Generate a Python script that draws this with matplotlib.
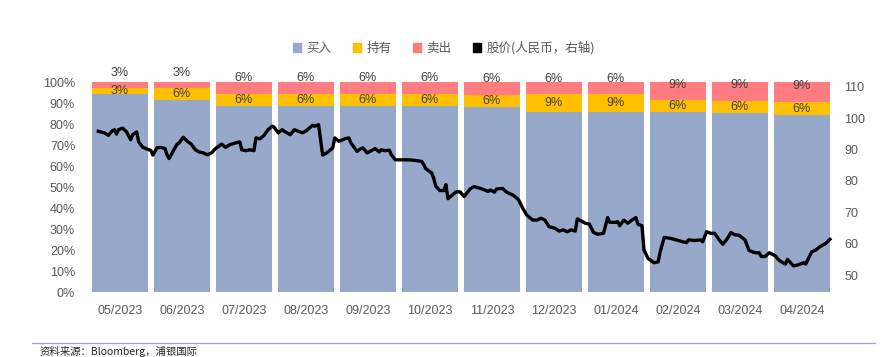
import matplotlib.pyplot as plt
from matplotlib.patches import Patch
from matplotlib.lines import Line2D
from matplotlib.ticker import FuncFormatter
import numpy as np

plt.rcParams['font.family'] = ['Liberation Sans', 'Noto Sans CJK SC', 'DejaVu Sans']

# 分析师评级占比 (%)
months = ["05/2023", "06/2023", "07/2023", "08/2023", "09/2023", "10/2023",
          "11/2023", "12/2023", "01/2024", "02/2024", "03/2024", "04/2024"]
buy = [94.3, 91.4, 88.9, 88.9, 88.9, 88.9, 88.2, 85.7, 85.7, 85.7, 85.3, 84.4]
hold = [2.9, 5.7, 5.6, 5.6, 5.6, 5.6, 5.9, 8.6, 8.6, 5.7, 5.9, 6.2]
sell = [2.9, 2.9, 5.6, 5.6, 5.6, 5.6, 5.9, 5.7, 5.7, 8.6, 8.8, 9.4]

# 股价 (人民币), day = 自 2023-05-04 起的天数
day = [0, 3, 5, 7, 8, 9, 10, 12, 14, 16, 17, 19, 20, 22, 25, 26, 27, 29, 31, 33,
       34, 35, 37, 39, 40, 42, 44, 46, 48, 50, 52, 54, 56, 58, 61, 63, 65, 68, 70, 71,
       73, 75, 77, 78, 80, 82, 84, 86, 87, 89, 91, 92, 95, 97, 99, 101, 103, 106, 107, 109,
       111, 113, 116, 117, 119, 122, 124, 125, 128, 130, 131, 133, 135, 137, 139, 140, 142, 144, 145, 147,
       150, 154, 158, 160, 161, 162, 165, 166, 167, 169, 171, 172, 173, 175, 177, 179, 181, 184, 186, 188,
       190, 193, 194, 196, 197, 200, 202, 205, 207, 208, 210, 212, 215, 217, 219, 221, 223, 226, 228, 230,
       232, 234, 236, 237, 239, 241, 243, 245, 247, 250, 252, 253, 256, 257, 258, 260, 262, 264, 266, 267,
       269, 270, 272, 275, 277, 278, 280, 283, 287, 291, 292, 295, 298, 299, 301, 303, 305, 307, 309, 311,
       313, 315, 317, 320, 322, 325, 327, 328, 330, 332, 335, 337, 340, 341, 344, 346, 349, 350, 353, 355,
       357, 360, 362]
price = [95.8, 95.3, 94.5, 96.0, 96.3, 94.9, 96.3, 96.8, 95.6, 93.1, 94.7, 95.6, 92.4, 90.7, 89.9, 89.7, 88.2, 90.5, 90.7, 90.3,
         88.3, 87.1, 89.4, 91.7, 92.1, 93.9, 92.6, 91.7, 89.9, 89.2, 88.9, 88.3, 88.9, 90.3, 91.7, 90.7, 91.5, 92.1, 92.4, 89.9,
         89.6, 89.9, 89.6, 93.7, 93.4, 94.5, 96.3, 97.4, 97.1, 95.3, 96.3, 95.8, 94.7, 96.3, 95.8, 95.3, 96.0, 97.7, 97.4, 97.9,
         88.2, 88.9, 90.5, 93.7, 92.6, 93.4, 93.7, 92.1, 89.4, 90.3, 90.5, 88.9, 89.6, 90.3, 89.2, 89.9, 89.6, 89.8, 88.3, 86.7,
         86.7, 86.7, 86.4, 86.2, 85.2, 83.9, 82.5, 80.7, 78.3, 76.9, 76.9, 78.8, 74.3, 75.4, 76.5, 76.5, 75.0, 77.4, 78.2, 77.8,
         77.4, 76.6, 77.1, 76.4, 77.4, 77.6, 76.4, 75.5, 74.6, 73.9, 71.3, 69.1, 67.5, 67.5, 68.1, 67.5, 65.4, 64.9, 64.0, 64.4,
         63.8, 64.4, 64.0, 67.9, 67.2, 66.5, 66.2, 63.6, 63.0, 63.3, 68.3, 66.8, 66.8, 67.0, 65.7, 67.5, 66.5, 67.5, 68.3, 66.2,
         65.7, 58.0, 55.3, 53.9, 54.2, 57.4, 62.0, 61.7, 61.0, 60.3, 61.2, 61.0, 61.2, 60.6, 63.8, 63.3, 63.3, 61.4, 59.8, 61.4,
         63.5, 62.8, 62.7, 61.2, 57.8, 57.1, 57.1, 55.9, 55.9, 57.1, 56.1, 54.6, 53.5, 55.0, 52.9, 53.2, 53.9, 53.5, 57.4, 58.0,
         59.0, 60.1, 61.4]

c_buy = "#97a9ca"
c_hold = "#ffc000"
c_sell = "#ff7c80"
c_tick = "#595959"
c_lab = "#404040"

fig = plt.figure(figsize=(8.82, 3.57), dpi=100)
ax = fig.add_axes([0.1009, 0.1812, 0.8435, 0.5883])

x = np.arange(len(months))
b = np.array(buy) / 100
h = np.array(hold) / 100
s = np.array(sell) / 100
ax.bar(x, b, width=0.9, color=c_buy, zorder=1)
ax.bar(x, h, width=0.9, bottom=b, color=c_hold, zorder=1)
ax.bar(x, s, width=0.9, bottom=b + h, color=c_sell, zorder=1)

for i in range(len(months)):
    ax.text(i, b[i] + h[i] / 2, f"{hold[i]:.0f}%", ha="center", va="center",
            fontsize=9, color=c_lab)
    ax.annotate(f"{sell[i]:.0f}%", (i, b[i] + h[i]), xytext=(0, 11.2),
                textcoords="offset points", ha="center", va="center",
                fontsize=9, color=c_lab)

ax.set_xlim(-0.5, 11.5)
ax.set_ylim(0, 1)
ax.set_yticks(np.arange(0, 1.01, 0.1))
ax.yaxis.set_major_formatter(FuncFormatter(lambda v, p: f"{v * 100:.0f}%"))
ax.set_xticks(x)
ax.set_xticklabels(months)
ax.tick_params(axis="y", length=0, pad=10, labelsize=9, labelcolor=c_tick)
ax.tick_params(axis="x", length=0, pad=9, labelsize=9, labelcolor=c_tick)
for sp in ax.spines.values():
    sp.set_visible(False)

ax2 = ax.twinx()
ax2.set_ylim(44.5, 111.4)
ax2.set_yticks(np.arange(50, 111, 10))
ax2.tick_params(axis="y", length=0, pad=8, labelsize=9, labelcolor=c_tick)
for sp in ax2.spines.values():
    sp.set_visible(False)

ax3 = ax2.twiny()
ax3.set_xlim(-4.6, 363.5)
ax3.plot(day, price, color="black", lw=2.4, solid_joinstyle="round", zorder=3)
ax3.xaxis.set_visible(False)
for sp in ax3.spines.values():
    sp.set_visible(False)

handles = [Patch(color=c_buy), Patch(color=c_hold), Patch(color=c_sell),
           Patch(color="black")]
labels = ["买入", "持有", "卖出", "股价(人民币，右轴)"]
leg = fig.legend(handles, labels, loc="center", bbox_to_anchor=(0.503, 0.866),
                 ncol=4, frameon=False, handlelength=0.7, handleheight=0.7,
                 handletextpad=0.4, columnspacing=1.7,
                 prop={"family": ["Noto Sans CJK SC", "DejaVu Sans"], "size": 9})
for t in leg.get_texts():
    t.set_color(c_tick)

fig.add_artist(Line2D([32 / 882, 875 / 882], [1 - 342.7 / 357] * 2,
                      transform=fig.transFigure, color="#9fa8c8", lw=0.9))
fig.text(40 / 882, 1 - 351 / 357, "资料来源：Bloomberg，浦银国际", fontsize=7.5,
         color="#262626", va="center", ha="left",
         family=["Noto Sans CJK SC", "DejaVu Sans"])

fig.savefig("out.png", dpi=100)
